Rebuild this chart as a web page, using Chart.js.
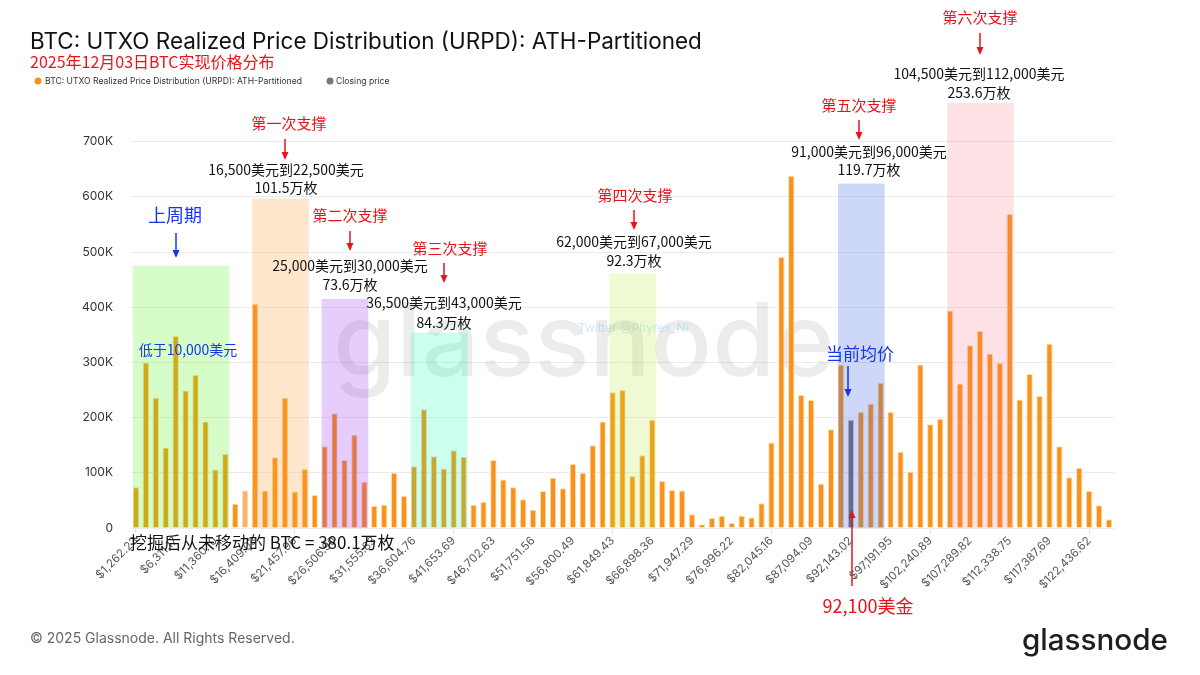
<!DOCTYPE html>
<html>
<head>
<meta charset="utf-8">
<script src="https://cdn.jsdelivr.net/npm/chart.js@4.4.0/dist/chart.umd.min.js"></script>
<style>
  html, body { margin: 0; padding: 0; background: #fff; }
  #wrap { width: 1200px; height: 675px; }
</style>
</head>
<body>
<div id="wrap"><canvas id="urpd-chart" width="1200" height="675"></canvas></div>
<script>
// x-axis tick labels, one every 4 buckets
const tickLabels = [
  '$1,262.23', '$6,311.17', '$11,360.10', '$16,409.03', '$21,457.96', '$26,506.90',
  '$31,555.83', '$36,604.76', '$41,653.69', '$46,702.63', '$51,751.56', '$56,800.49',
  '$61,849.43', '$66,898.36', '$71,947.29', '$76,996.22', '$82,045.16', '$87,094.09',
  '$92,143.02', '$97,191.95', '$102,240.89', '$107,289.82', '$112,338.75', '$117,387.69',
  '$122,436.62'
];

// BTC supply per price bucket
const urpdValues = [
  74000, 300000, 236000, 146000, 348000, 249000, 277000, 193000, 106000, 134000,
  44000, 68000, 406000, 68000, 128000, 236000, 66000, 107000, 60000, 148000,
  208000, 123000, 169000, 84000, 40000, 42000, 100000, 58000, 112000, 215000,
  130000, 108000, 141000, 129000, 42000, 47000, 123000, 88000, 74000, 52000,
  33000, 67000, 91000, 72000, 116000, 100000, 150000, 193000, 246000, 250000,
  94000, 132000, 196000, 85000, 69000, 68000, 25000, 7000, 18000, 22000,
  9000, 22000, 19000, 45000, 155000, 491000, 638000, 241000, 232000, 80000,
  179000, 296000, 196000, 210000, 225000, 263000, 210000, 138000, 102000, 296000,
  188000, 198000, 394000, 262000, 331000, 357000, 316000, 299000, 569000, 233000,
  279000, 239000, 334000, 148000, 92000, 109000, 67000, 41000, 16000
];

// bucket holding the closing price
const closeBucket = 72;
const yTickValues = [0, 100000, 200000, 300000, 400000, 500000, 600000, 700000];

// support zones: bucket range and height
const supportZones = [
  { from: 0, to: 9, top: 475000, color: 'rgba(82,241,23,0.24)' },
  { from: 12, to: 17, top: 597000, color: 'rgba(250,160,50,0.25)' },
  { from: 19, to: 23, top: 415000, color: 'rgba(150,45,243,0.24)' },
  { from: 28, to: 33, top: 354000, color: 'rgba(0,255,170,0.2)' },
  { from: 48, to: 52, top: 461000, color: 'rgba(186,233,43,0.21)' },
  { from: 71, to: 75, top: 624000, color: 'rgba(56,96,228,0.25)' },
  { from: 82, to: 88, top: 770000, color: 'rgba(255,110,125,0.2)' }
];

const RED = '#e8141b';
const BLUE = '#1736ea';
const CJK = '"Noto Sans CJK SC", sans-serif';

// [text, x, y, size, color]
const notes = [
  ['第一次支撑', 289, 123, 15, RED],
  ['第二次支撑', 350, 215, 15, RED],
  ['第三次支撑', 450, 248, 15, RED],
  ['第四次支撑', 635, 195, 15, RED],
  ['第五次支撑', 859, 105, 15, RED],
  ['第六次支撑', 980, 17, 15, RED],
  ['16,500美元到22,500美元', 286, 170, 14, '#111'],
  ['101.5万枚', 286, 188, 14, '#111'],
  ['25,000美元到30,000美元', 350, 266, 14, '#111'],
  ['73.6万枚', 350, 285, 14, '#111'],
  ['36,500美元到43,000美元', 444, 303, 14, '#111'],
  ['84.3万枚', 444, 323, 14, '#111'],
  ['62,000美元到67,000美元', 634, 242, 14, '#111'],
  ['92.3万枚', 634, 261, 14, '#111'],
  ['91,000美元到96,000美元', 869, 152, 14, '#111'],
  ['119.7万枚', 869, 170, 14, '#111'],
  ['104,500美元到112,000美元', 979, 74, 14, '#111'],
  ['253.6万枚', 979, 93, 14, '#111'],
  ['上周期', 175, 215, 18, BLUE],
  ['低于10,000美元', 188, 350, 14, BLUE],
  ['当前均价', 860, 354, 17, BLUE],
  ['92,100美金', 868, 606, 18, RED]
];

// [x, yFrom, yTo, color]
const arrows = [
  [285, 139, 160, RED], [350, 231, 251, RED], [444, 263, 283, RED],
  [634, 210, 230, RED], [859, 120, 140, RED], [980, 33, 55, RED],
  [176, 233, 258, BLUE], [848, 366, 397, BLUE], [852, 586, 510, RED]
];

const categories = urpdValues.map((v, i) => i % 4 === 0 ? tickLabels[i / 4] : '');
const urpdData = urpdValues.map((v, i) => i === closeBucket ? null : v);
const closeData = urpdValues.map((v, i) => i === closeBucket ? v : null);
const barColors = urpdValues.map((v, i) => i === 11 ? '#f8b466' : '#f7931a');

function drawArrow(ctx, x, y1, y2, color) {
  const dir = y2 > y1 ? 1 : -1;
  ctx.save();
  ctx.strokeStyle = color;
  ctx.fillStyle = color;
  ctx.lineWidth = 1.5;
  ctx.beginPath();
  ctx.moveTo(x, y1);
  ctx.lineTo(x, y2 - dir * 6);
  ctx.stroke();
  ctx.beginPath();
  ctx.moveTo(x, y2);
  ctx.lineTo(x - 3.5, y2 - dir * 8);
  ctx.lineTo(x + 3.5, y2 - dir * 8);
  ctx.closePath();
  ctx.fill();
  ctx.restore();
}

function fitText(ctx, text, x, y, width, weight, family) {
  ctx.font = weight + ' 100px ' + family;
  const size = 100 * width / ctx.measureText(text).width;
  ctx.font = weight + ' ' + size + 'px ' + family;
  ctx.fillText(text, x, y);
}

const decorPlugin = {
  id: 'decor',
  beforeDraw(chart) {
    const ctx = chart.ctx;
    ctx.save();
    ctx.fillStyle = '#fff';
    ctx.fillRect(0, 0, chart.width, chart.height);
    ctx.textBaseline = 'middle';
    ctx.textAlign = 'left';
    ctx.fillStyle = '#111';
    fitText(ctx, 'BTC: UTXO Realized Price Distribution (URPD): ATH-Partitioned', 30, 42, 672, '400', 'Inter, sans-serif');
    ctx.fillStyle = '#f0141a';
    ctx.font = '16px ' + CJK;
    ctx.fillText('2025年12月03日BTC实现价格分布', 30, 62);
    // legend
    ctx.fillStyle = '#f7931a';
    ctx.beginPath(); ctx.arc(38, 81, 3.5, 0, Math.PI * 2); ctx.fill();
    ctx.fillStyle = '#777';
    ctx.beginPath(); ctx.arc(330, 81, 3.5, 0, Math.PI * 2); ctx.fill();
    ctx.fillStyle = '#333';
    ctx.font = '8.6px Inter, sans-serif';
    ctx.fillText('BTC: UTXO Realized Price Distribution (URPD): ATH-Partitioned', 45, 81);
    ctx.fillText('Closing price', 336, 81);
    // footer
    ctx.fillStyle = '#666';
    ctx.font = '14px Inter, sans-serif';
    ctx.fillText('© 2025 Glassnode. All Rights Reserved.', 30, 639);
    ctx.fillStyle = '#1e1e1e';
    ctx.textBaseline = 'alphabetic';
    fitText(ctx, 'glassnode', 1022, 650, 146, '500', 'Inter, sans-serif');
    ctx.restore();
  },
  beforeDatasetsDraw(chart) {
    const ctx = chart.ctx;
    ctx.save();
    ctx.fillStyle = 'rgba(0,0,0,0.075)';
    ctx.textAlign = 'left';
    ctx.textBaseline = 'alphabetic';
    fitText(ctx, 'glassnode', 333, 376, 502, '500', 'Inter, sans-serif');
    ctx.fillStyle = 'rgba(90,190,240,0.3)';
    ctx.font = '12px Inter, sans-serif';
    ctx.textBaseline = 'middle';
    ctx.fillText('Twitter @Phyrex_Ni', 578, 328);
    ctx.restore();
  },
  afterDatasetsDraw(chart) {
    const ctx = chart.ctx;
    const area = chart.chartArea;
    const y = chart.scales.y;
    const w = area.width / urpdValues.length;
    ctx.save();
    supportZones.forEach(z => {
      const x0 = area.left + (z.from + 0.5) * w - 3;
      const x1 = area.left + (z.to + 0.5) * w + 4;
      const top = y.getPixelForValue(z.top);
      ctx.fillStyle = z.color;
      ctx.fillRect(x0, top, x1 - x0, area.bottom - top);
    });
    ctx.textAlign = 'center';
    ctx.textBaseline = 'middle';
    notes.forEach(([t, x, yy, size, color]) => {
      ctx.fillStyle = color;
      ctx.font = size + 'px ' + CJK;
      ctx.fillText(t, x, yy);
    });
    ctx.textAlign = 'left';
    ctx.fillStyle = '#111';
    ctx.font = '17px ' + CJK;
    ctx.fillText('挖掘后从未移动的 BTC = 380.1万枚', 130, 543);
    arrows.forEach(([x, a, b, c]) => drawArrow(ctx, x, a, b, c));
    ctx.restore();
  }
};

new Chart(document.getElementById('urpd-chart'), {
  type: 'bar',
  data: {
    labels: categories,
    datasets: [
      {
        label: 'BTC: UTXO Realized Price Distribution (URPD): ATH-Partitioned',
        data: urpdData,
        backgroundColor: barColors,
        borderColor: 'rgba(255,215,170,0.9)',
        borderWidth: 1,
        barPercentage: 0.64,
        categoryPercentage: 1,
        grouped: false
      },
      {
        label: 'Closing price',
        data: closeData,
        backgroundColor: '#74716b',
        borderColor: 'rgba(200,200,200,0.8)',
        borderWidth: 1,
        barPercentage: 0.64,
        categoryPercentage: 1,
        grouped: false
      }
    ]
  },
  options: {
    responsive: false,
    animation: false,
    devicePixelRatio: 1,
    layout: { padding: { top: 103, right: 86, left: 0, bottom: 0 } },
    plugins: {
      legend: { display: false },
      title: { display: false },
      tooltip: { enabled: false }
    },
    scales: {
      x: {
        border: { display: false },
        grid: {
          offset: false,
          drawOnChartArea: false,
          tickLength: 5,
          color: (c) => c.index % 4 === 0 ? '#e2e2e2' : 'rgba(0,0,0,0)'
        },
        ticks: {
          autoSkip: false,
          minRotation: 45,
          maxRotation: 45,
          padding: 1,
          color: '#555',
          font: { size: 11.5, family: 'Inter, sans-serif' },
          callback: (v, i) => i % 4 === 0 ? tickLabels[i / 4] : null
        },
        afterFit: (s) => { s.height = 147; }
      },
      y: {
        min: 0,
        max: 770000,
        border: { display: false },
        grid: { color: '#ececec', drawTicks: false },
        ticks: {
          stepSize: 100000,
          padding: 18,
          color: '#333',
          font: { size: 12, family: 'Inter, sans-serif' },
          callback: (v) => v === 0 ? '0' : (v / 1000) + 'K'
        },
        afterBuildTicks: (s) => {
          s.ticks = yTickValues.map(v => ({ value: v }));
        },
        afterFit: (s) => { s.width = 131; }
      }
    }
  },
  plugins: [decorPlugin]
});
</script>
</body>
</html>
